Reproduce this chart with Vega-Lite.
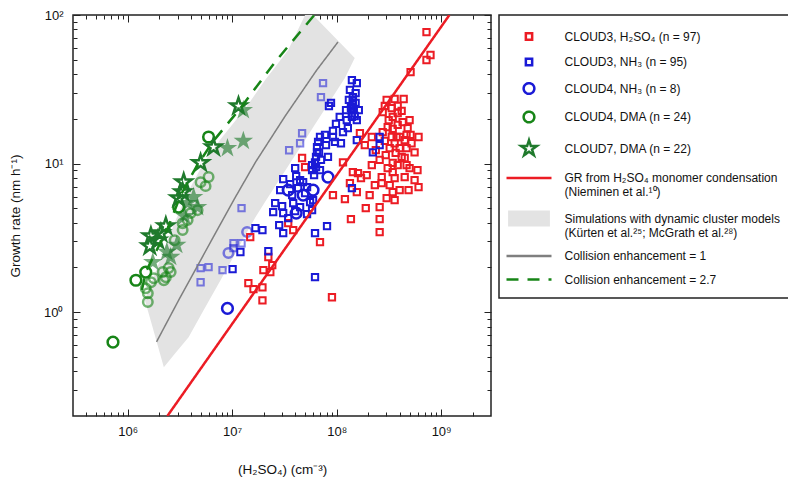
{
  "$schema": "https://vega.github.io/schema/vega-lite/v6.json",
  "width": 418,
  "height": 401,
  "autosize": {"type": "none"},
  "padding": {"left": 73, "top": 15, "right": 297, "bottom": 64},
  "background": "white",
  "datasets": {
    "sim": [
      {"x": 1460000, "y": 1.205, "y2": 1.205},
      {"x": 1670000, "y": 1.544, "y2": 0.87},
      {"x": 2220000, "y": 2.62, "y2": 0.426},
      {"x": 2880000, "y": 4.16, "y2": 0.533},
      {"x": 3830000, "y": 6.56, "y2": 0.679},
      {"x": 5330000, "y": 10.08, "y2": 1.03},
      {"x": 7740000, "y": 14.6, "y2": 1.64},
      {"x": 13400000, "y": 23.6, "y2": 3.3},
      {"x": 16700000, "y": 29.4, "y2": 4.36},
      {"x": 20700000, "y": 36.5, "y2": 5.54},
      {"x": 34400000, "y": 58.1, "y2": 9.62},
      {"x": 49900000, "y": 100, "y2": 14.4},
      {"x": 59400000, "y": 100, "y2": 17.5},
      {"x": 120000000, "y": 60.1, "y2": 37.6},
      {"x": 149000000, "y": 51.3, "y2": 51.3}
    ],
    "ce1": [
      {"x": 1890000, "y": 0.631}, {"x": 3080000, "y": 1.205}, {"x": 6210000, "y": 2.96},
      {"x": 10750000, "y": 5.95}, {"x": 16700000, "y": 10.2}, {"x": 32200000, "y": 20.9},
      {"x": 64500000, "y": 42.6}, {"x": 103000000, "y": 65.8}
    ],
    "ce27": [
      {"x": 1370000, "y": 1.41}, {"x": 1490000, "y": 1.86}, {"x": 1900000, "y": 2.62},
      {"x": 2420000, "y": 3.68}, {"x": 3220000, "y": 6.14}, {"x": 4470000, "y": 9.33},
      {"x": 6490000, "y": 13.96}, {"x": 12000000, "y": 23.6}, {"x": 25800000, "y": 48.3},
      {"x": 44700000, "y": 76.8}, {"x": 69300000, "y": 111}
    ],
    "gr": [{"x": 2400000, "y": 0.2}, {"x": 1200000000, "y": 100}],
    "nh3_light": [
      {"x": 74100000, "y": 34.8}, {"x": 70800000, "y": 28.0}, {"x": 46700000, "y": 16.0},
      {"x": 44700000, "y": 13.7}, {"x": 35100000, "y": 12.3}, {"x": 12300000, "y": 5.01},
      {"x": 10300000, "y": 2.91}, {"x": 12300000, "y": 2.91}, {"x": 4990000, "y": 1.98},
      {"x": 5950000, "y": 2.01}, {"x": 4990000, "y": 1.59}, {"x": 8090000, "y": 1.92},
      {"x": 10300000, "y": 2.7}
    ],
    "nh3": [
      {"x": 140000000, "y": 36.5}, {"x": 156000000, "y": 34.8}, {"x": 84400000, "y": 24.4},
      {"x": 143000000, "y": 28.0}, {"x": 143000000, "y": 26.4}, {"x": 143000000, "y": 24.8},
      {"x": 146000000, "y": 23.3}, {"x": 140000000, "y": 21.9}, {"x": 149000000, "y": 20.9},
      {"x": 107000000, "y": 20.6}, {"x": 125000000, "y": 19.6}, {"x": 156000000, "y": 19.6},
      {"x": 128000000, "y": 17.3}, {"x": 92200000, "y": 16.6}, {"x": 92200000, "y": 15.1},
      {"x": 110000000, "y": 13.7}, {"x": 156000000, "y": 14.4}, {"x": 88300000, "y": 25.6},
      {"x": 69300000, "y": 15.1}, {"x": 66400000, "y": 14.0}, {"x": 64900000, "y": 12.9},
      {"x": 64900000, "y": 11.9}, {"x": 63500000, "y": 11.1}, {"x": 62100000, "y": 10.2},
      {"x": 58200000, "y": 9.77}, {"x": 82600000, "y": 11.1}, {"x": 58200000, "y": 9.04},
      {"x": 69300000, "y": 9.04}, {"x": 40100000, "y": 9.33}, {"x": 41000000, "y": 8.24},
      {"x": 30800000, "y": 7.86}, {"x": 28800000, "y": 6.63}, {"x": 42800000, "y": 6.84},
      {"x": 47800000, "y": 7.5}, {"x": 52100000, "y": 6.95}, {"x": 25800000, "y": 5.42},
      {"x": 30100000, "y": 5.17}, {"x": 38400000, "y": 5.42}, {"x": 55700000, "y": 5.5},
      {"x": 30800000, "y": 4.64}, {"x": 40100000, "y": 4.79}, {"x": 58200000, "y": 4.86},
      {"x": 59500000, "y": 5.68}, {"x": 16700000, "y": 3.68}, {"x": 30800000, "y": 3.4},
      {"x": 62100000, "y": 3.4}, {"x": 80900000, "y": 3.79}, {"x": 140000000, "y": 6.84},
      {"x": 222000000, "y": 11.9}, {"x": 258000000, "y": 15.1}, {"x": 258000000, "y": 13.3},
      {"x": 12000000, "y": 2.54}, {"x": 22200000, "y": 2.57}, {"x": 10100000, "y": 1.95},
      {"x": 62100000, "y": 1.72}, {"x": 96400000, "y": 14.0}, {"x": 134000000, "y": 31.3},
      {"x": 152000000, "y": 29.8}, {"x": 137000000, "y": 23.6}, {"x": 152000000, "y": 25.6},
      {"x": 140000000, "y": 20.6}, {"x": 67800000, "y": 11.9}, {"x": 70800000, "y": 10.6},
      {"x": 63500000, "y": 9.47}, {"x": 60800000, "y": 8.37}, {"x": 44700000, "y": 7.74},
      {"x": 35900000, "y": 7.28}, {"x": 49900000, "y": 6.33}, {"x": 37500000, "y": 6.14},
      {"x": 44700000, "y": 5.09}, {"x": 52100000, "y": 4.57}, {"x": 34400000, "y": 4.3},
      {"x": 24700000, "y": 4.71}, {"x": 79100000, "y": 13.3}, {"x": 98500000, "y": 18.5},
      {"x": 123000000, "y": 22.9}, {"x": 28200000, "y": 3.85}, {"x": 19500000, "y": 3.57},
      {"x": 77400000, "y": 15.6}, {"x": 115000000, "y": 16.3}, {"x": 163000000, "y": 22.9},
      {"x": 131000000, "y": 26.8}
    ],
    "h2so4": [
      {"x": 724000000, "y": 76.8}, {"x": 791000000, "y": 53.8}, {"x": 724000000, "y": 49.8},
      {"x": 510000000, "y": 41.3}, {"x": 301000000, "y": 26.8}, {"x": 359000000, "y": 27.2},
      {"x": 438000000, "y": 27.2}, {"x": 276000000, "y": 22.2}, {"x": 344000000, "y": 20.6},
      {"x": 419000000, "y": 22.6}, {"x": 428000000, "y": 19.0}, {"x": 308000000, "y": 17.6},
      {"x": 344000000, "y": 17.1}, {"x": 337000000, "y": 15.1}, {"x": 375000000, "y": 15.1},
      {"x": 401000000, "y": 15.1}, {"x": 467000000, "y": 15.6}, {"x": 510000000, "y": 15.6},
      {"x": 608000000, "y": 15.1}, {"x": 448000000, "y": 14.4}, {"x": 167000000, "y": 16.0},
      {"x": 217000000, "y": 15.1}, {"x": 322000000, "y": 12.7}, {"x": 401000000, "y": 12.7},
      {"x": 467000000, "y": 12.7}, {"x": 419000000, "y": 11.1}, {"x": 115000000, "y": 10.2},
      {"x": 344000000, "y": 10.1}, {"x": 344000000, "y": 8.77}, {"x": 499000000, "y": 9.33},
      {"x": 46700000, "y": 10.9}, {"x": 143000000, "y": 8.77}, {"x": 160000000, "y": 8.63},
      {"x": 194000000, "y": 8.37}, {"x": 270000000, "y": 8.11}, {"x": 270000000, "y": 7.39},
      {"x": 359000000, "y": 7.98}, {"x": 448000000, "y": 8.11}, {"x": 134000000, "y": 7.39},
      {"x": 156000000, "y": 6.43}, {"x": 92200000, "y": 6.14}, {"x": 120000000, "y": 5.77},
      {"x": 344000000, "y": 6.43}, {"x": 488000000, "y": 6.63}, {"x": 608000000, "y": 6.95},
      {"x": 258000000, "y": 5.09}, {"x": 258000000, "y": 4.23}, {"x": 258000000, "y": 3.46},
      {"x": 137000000, "y": 4.23}, {"x": 49900000, "y": 9.47}, {"x": 34400000, "y": 3.97},
      {"x": 38400000, "y": 3.57}, {"x": 69300000, "y": 2.96}, {"x": 14900000, "y": 3.2},
      {"x": 22200000, "y": 2.35}, {"x": 24200000, "y": 2.07}, {"x": 19900000, "y": 1.92},
      {"x": 23200000, "y": 1.86}, {"x": 14300000, "y": 1.57}, {"x": 16000000, "y": 1.43},
      {"x": 19500000, "y": 1.47}, {"x": 19500000, "y": 1.2}, {"x": 90200000, "y": 1.26},
      {"x": 289000000, "y": 24.4}, {"x": 384000000, "y": 24.4}, {"x": 315000000, "y": 19.6},
      {"x": 384000000, "y": 18.2}, {"x": 478000000, "y": 17.3}, {"x": 289000000, "y": 14.2},
      {"x": 359000000, "y": 13.7}, {"x": 521000000, "y": 13.7}, {"x": 295000000, "y": 11.4},
      {"x": 367000000, "y": 11.8}, {"x": 448000000, "y": 10.9}, {"x": 557000000, "y": 11.9},
      {"x": 384000000, "y": 9.77}, {"x": 308000000, "y": 9.33}, {"x": 594000000, "y": 9.04},
      {"x": 232000000, "y": 7.16}, {"x": 322000000, "y": 7.16}, {"x": 401000000, "y": 6.63},
      {"x": 301000000, "y": 5.86}, {"x": 207000000, "y": 6.14}, {"x": 171000000, "y": 7.98},
      {"x": 217000000, "y": 9.77}, {"x": 237000000, "y": 12.3}, {"x": 186000000, "y": 13.3},
      {"x": 384000000, "y": 21.9}, {"x": 499000000, "y": 19.6}, {"x": 337000000, "y": 23.6},
      {"x": 276000000, "y": 16.3}, {"x": 557000000, "y": 7.74}, {"x": 359000000, "y": 5.68},
      {"x": 190000000, "y": 5.01}, {"x": 467000000, "y": 9.77}, {"x": 258000000, "y": 10.6}
    ],
    "c4nh3": [
      {"x": 9020000, "y": 1.06}, {"x": 34400000, "y": 6.63}, {"x": 59500000, "y": 6.63},
      {"x": 82600000, "y": 8.11}, {"x": 41000000, "y": 4.64}, {"x": 47800000, "y": 6.14}
    ],
    "c4nh3_light": [{"x": 13900000, "y": 3.46}, {"x": 9220000, "y": 2.5}],
    "c4dma": [
      {"x": 5950000, "y": 15.1}, {"x": 3080000, "y": 5.09}, {"x": 1490000, "y": 1.86},
      {"x": 1200000, "y": 1.64}, {"x": 724000, "y": 0.628}
    ],
    "c4dma_light": [
      {"x": 5950000, "y": 8.11}, {"x": 4670000, "y": 4.86}, {"x": 3360000, "y": 3.57},
      {"x": 3360000, "y": 3.97}, {"x": 2220000, "y": 1.64}, {"x": 2170000, "y": 1.86},
      {"x": 2320000, "y": 1.72}, {"x": 2580000, "y": 1.86}, {"x": 1490000, "y": 1.45},
      {"x": 1560000, "y": 1.34}, {"x": 1560000, "y": 1.17}, {"x": 1780000, "y": 1.69},
      {"x": 2820000, "y": 3.05}, {"x": 4010000, "y": 4.64}, {"x": 4990000, "y": 7.5},
      {"x": 3750000, "y": 4.17}, {"x": 2470000, "y": 1.98}, {"x": 1670000, "y": 1.59},
      {"x": 5570000, "y": 7.05}
    ],
    "c7dma": [
      {"x": 11500000, "y": 24.4}, {"x": 6640000, "y": 12.9}, {"x": 4990000, "y": 10.1},
      {"x": 3440000, "y": 7.5}, {"x": 3360000, "y": 6.43}, {"x": 3080000, "y": 5.86},
      {"x": 2320000, "y": 3.79}, {"x": 2080000, "y": 3.4}, {"x": 1670000, "y": 3.25},
      {"x": 1630000, "y": 2.78}, {"x": 1940000, "y": 3.05}
    ],
    "c7dma_light": [
      {"x": 12800000, "y": 22.9}, {"x": 9020000, "y": 12.7}, {"x": 12800000, "y": 14.2},
      {"x": 4280000, "y": 5.95}, {"x": 4670000, "y": 5.09}, {"x": 3750000, "y": 5.42},
      {"x": 2580000, "y": 2.35}, {"x": 2370000, "y": 2.54}, {"x": 1740000, "y": 2.17},
      {"x": 2950000, "y": 2.83}, {"x": 3510000, "y": 4.43}
    ]
  },
  "layer": [
    {
      "layer": [
        {
          "data": {"name": "sim"},
          "mark": {"type": "area", "color": "#e3e3e3", "opacity": 1, "clip": true},
          "encoding": {
            "x": {
              "field": "x", "type": "quantitative",
              "scale": {"type": "log", "domain": [300000, 3000000000], "nice": false},
              "axis": {
                "orient": "bottom",
                "title": "(H₂SO₄) (cm⁻³)",
                "values": [400000, 500000, 600000, 700000, 800000, 900000, 1000000, 2000000, 3000000, 4000000, 5000000, 6000000, 7000000, 8000000, 9000000, 10000000, 20000000, 30000000, 40000000, 50000000, 60000000, 70000000, 80000000, 90000000, 100000000, 200000000, 300000000, 400000000, 500000000, 600000000, 700000000, 800000000, 900000000, 1000000000, 2000000000],
                "labelExpr": "datum.value == 1000000 ? '10⁶' : datum.value == 10000000 ? '10⁷' : datum.value == 100000000 ? '10⁸' : datum.value == 1000000000 ? '10⁹' : ''",
                "tickSize": -7,
                "tickDash": {"condition": {"test": "abs(log(datum.value)/LN10 - round(log(datum.value)/LN10)) < 0.001", "value": [7, 0]}, "value": [4, 20]},
                "labelPadding": 16,
                "titlePadding": 24
              }
            },
            "y": {
              "field": "y", "type": "quantitative",
              "scale": {"type": "log", "domain": [0.2, 100], "nice": false},
              "axis": {
                "orient": "left",
                "title": "Growth rate (nm h⁻¹)",
                "values": [0.3, 0.4, 0.5, 0.6, 0.7, 0.8, 0.9, 1, 2, 3, 4, 5, 6, 7, 8, 9, 10, 20, 30, 40, 50, 60, 70, 80, 90, 100],
                "labelExpr": "datum.value == 1 ? '10⁰' : datum.value == 10 ? '10¹' : datum.value == 100 ? '10²' : ''",
                "tickSize": -7,
                "tickDash": {"condition": {"test": "abs(log(datum.value)/LN10 - round(log(datum.value)/LN10)) < 0.001", "value": [7, 0]}, "value": [4, 20]},
                "labelPadding": 17,
                "titlePadding": 21
              }
            },
            "y2": {"field": "y2"}
          }
        },
        {
          "data": {"name": "nh3_light"},
          "mark": {"type": "point", "shape": "square", "filled": false, "color": "#1a1ad6", "size": 40, "strokeWidth": 2, "opacity": 0.55},
          "encoding": {
            "x": {"field": "x", "type": "quantitative"},
            "y": {"field": "y", "type": "quantitative"}
          }
        },
        {
          "data": {"name": "c4nh3_light"},
          "mark": {"type": "point", "shape": "circle", "filled": false, "color": "#1a1ad6", "size": 90, "strokeWidth": 2.5, "opacity": 0.55},
          "encoding": {
            "x": {"field": "x", "type": "quantitative"},
            "y": {"field": "y", "type": "quantitative"}
          }
        },
        {
          "data": {"name": "c4dma_light"},
          "mark": {"type": "point", "shape": "circle", "filled": false, "color": "#178517", "size": 90, "strokeWidth": 2.5, "opacity": 0.6},
          "encoding": {
            "x": {"field": "x", "type": "quantitative"},
            "y": {"field": "y", "type": "quantitative"}
          }
        },
        {
          "data": {"name": "c7dma_light"},
          "mark": {"type": "point", "shape": "M0,-1L0.225,-0.309L0.951,-0.309L0.363,0.118L0.588,0.809L0,0.382L-0.588,0.809L-0.363,0.118L-0.951,-0.309L-0.225,-0.309Z", "filled": true, "color": "#1f7a2c", "size": 420, "opacity": 0.62},
          "encoding": {
            "x": {"field": "x", "type": "quantitative"},
            "y": {"field": "y", "type": "quantitative"}
          }
        },
        {
          "data": {"name": "h2so4"},
          "mark": {"type": "point", "filled": false, "opacity": 1, "size": 256, "strokeWidth": 2},
          "encoding": {
            "x": {"field": "x", "type": "quantitative"},
            "y": {"field": "y", "type": "quantitative"},
            "color": {
              "datum": "CLOUD3, H₂SO₄ (n = 97)",
              "scale": {
                "domain": ["CLOUD3, H₂SO₄ (n = 97)", "CLOUD3, NH₃ (n = 95)", "CLOUD4, NH₃ (n = 8)", "CLOUD4, DMA (n = 24)", "CLOUD7, DMA (n = 22)", "GR from H₂SO₄ monomer condensation", "Simulations with dynamic cluster models", "Collision enhancement = 1", "Collision enhancement = 2.7"],
                "range": ["#ec1c24", "#1a1ad6", "#1a1ad6", "#178517", "#1f7a2c", "#ec1c24", "#e3e3e3", "#7f7f7f", "#178517"]
              },
              "legend": {
                "title": null,
                "labelExpr": "datum.index == 5 ? ['GR from H₂SO₄ monomer condensation', '(Nieminen et al.¹⁰)'] : datum.index == 6 ? ['Simulations with dynamic cluster models', '(Kürten et al.²⁵; McGrath et al.²⁸)'] : datum.label"
              }
            },
            "shape": {
              "datum": "CLOUD3, H₂SO₄ (n = 97)",
              "scale": {
                "domain": ["CLOUD3, H₂SO₄ (n = 97)", "CLOUD3, NH₃ (n = 95)", "CLOUD4, NH₃ (n = 8)", "CLOUD4, DMA (n = 24)", "CLOUD7, DMA (n = 22)", "GR from H₂SO₄ monomer condensation", "Simulations with dynamic cluster models", "Collision enhancement = 1", "Collision enhancement = 2.7"],
                "range": [
                  "M-0.394,-0.394H0.394V0.394H-0.394Z",
                  "M-0.394,-0.394H0.394V0.394H-0.394Z",
                  "M-0.669,0A0.669,0.669 0 1,0 0.669,0A0.669,0.669 0 1,0 -0.669,0Z",
                  "M-0.669,0A0.669,0.669 0 1,0 0.669,0A0.669,0.669 0 1,0 -0.669,0Z",
                  "M0,-1.041L0.233,-0.321L0.99,-0.321L0.377,0.124L0.613,0.841L0,0.397L-0.613,0.841L-0.377,0.124L-0.99,-0.321L-0.233,-0.321Z",
                  "M-2.8125,0H2.8125",
                  "M-2.616,-0.844H2.616M-2.616,-0.563H2.616M-2.616,-0.281H2.616M-2.616,0H2.616M-2.616,0.281H2.616M-2.616,0.563H2.616M-2.616,0.844H2.616",
                  "M-2.8125,0H2.8125",
                  "M-2.8125,0H2.8125"
                ]
              },
              "legend": {"title": null}
            }
          }
        },
        {
          "data": {"name": "nh3"},
          "mark": {"type": "point", "filled": false, "opacity": 1, "size": 256, "strokeWidth": 2},
          "encoding": {
            "x": {"field": "x", "type": "quantitative"},
            "y": {"field": "y", "type": "quantitative"},
            "color": {"datum": "CLOUD3, NH₃ (n = 95)"},
            "shape": {"datum": "CLOUD3, NH₃ (n = 95)"}
          }
        },
        {
          "data": {"name": "c4nh3"},
          "mark": {"type": "point", "filled": false, "opacity": 1, "size": 256, "strokeWidth": 2.5},
          "encoding": {
            "x": {"field": "x", "type": "quantitative"},
            "y": {"field": "y", "type": "quantitative"},
            "color": {"datum": "CLOUD4, NH₃ (n = 8)"},
            "shape": {"datum": "CLOUD4, NH₃ (n = 8)"}
          }
        },
        {
          "data": {"name": "c4dma"},
          "mark": {"type": "point", "filled": false, "opacity": 1, "size": 256, "strokeWidth": 2.5},
          "encoding": {
            "x": {"field": "x", "type": "quantitative"},
            "y": {"field": "y", "type": "quantitative"},
            "color": {"datum": "CLOUD4, DMA (n = 24)"},
            "shape": {"datum": "CLOUD4, DMA (n = 24)"}
          }
        },
        {
          "data": {"name": "c7dma"},
          "mark": {"type": "point", "filled": false, "opacity": 1, "size": 256, "strokeWidth": 2.5},
          "encoding": {
            "x": {"field": "x", "type": "quantitative"},
            "y": {"field": "y", "type": "quantitative"},
            "color": {"datum": "CLOUD7, DMA (n = 22)"},
            "shape": {"datum": "CLOUD7, DMA (n = 22)"}
          }
        },
        {
          "data": {"name": "ce1"},
          "mark": {"type": "line", "clip": true, "strokeWidth": 1.5},
          "encoding": {
            "x": {"field": "x", "type": "quantitative"},
            "y": {"field": "y", "type": "quantitative"},
            "color": {"datum": "Collision enhancement = 1"},
            "strokeDash": {
              "datum": "Collision enhancement = 1",
              "scale": {
                "domain": ["CLOUD3, H₂SO₄ (n = 97)", "CLOUD3, NH₃ (n = 95)", "CLOUD4, NH₃ (n = 8)", "CLOUD4, DMA (n = 24)", "CLOUD7, DMA (n = 22)", "GR from H₂SO₄ monomer condensation", "Simulations with dynamic cluster models", "Collision enhancement = 1", "Collision enhancement = 2.7"],
                "range": [[1, 0], [1, 0], [1, 0], [1, 0], [1, 0], [1, 0], [1, 0], [1, 0], [12, 9]]
              },
              "legend": {"title": null}
            }
          }
        },
        {
          "data": {"name": "gr"},
          "mark": {"type": "line", "clip": true, "strokeWidth": 2.5},
          "encoding": {
            "x": {"field": "x", "type": "quantitative"},
            "y": {"field": "y", "type": "quantitative"},
            "color": {"datum": "GR from H₂SO₄ monomer condensation"},
            "strokeDash": {"datum": "GR from H₂SO₄ monomer condensation"}
          }
        },
        {
          "data": {"name": "ce27"},
          "mark": {"type": "line", "clip": true, "strokeWidth": 2.5},
          "encoding": {
            "x": {"field": "x", "type": "quantitative"},
            "y": {"field": "y", "type": "quantitative"},
            "color": {"datum": "Collision enhancement = 2.7"},
            "strokeDash": {"datum": "Collision enhancement = 2.7"}
          }
        }
      ]
    },
    {
      "data": {"name": "gr"},
      "mark": {"type": "point", "opacity": 0},
      "encoding": {
        "x": {
          "field": "x", "type": "quantitative",
          "scale": {"type": "log", "domain": [300000, 3000000000], "nice": false},
          "axis": {
            "orient": "top", "labels": false, "title": null,
            "values": [400000, 500000, 600000, 700000, 800000, 900000, 1000000, 2000000, 3000000, 4000000, 5000000, 6000000, 7000000, 8000000, 9000000, 10000000, 20000000, 30000000, 40000000, 50000000, 60000000, 70000000, 80000000, 90000000, 100000000, 200000000, 300000000, 400000000, 500000000, 600000000, 700000000, 800000000, 900000000, 1000000000, 2000000000],
            "tickSize": -7,
            "tickDash": {"condition": {"test": "abs(log(datum.value)/LN10 - round(log(datum.value)/LN10)) < 0.001", "value": [7, 0]}, "value": [4, 20]}
          }
        },
        "y": {
          "field": "y", "type": "quantitative",
          "scale": {"type": "log", "domain": [0.2, 100], "nice": false},
          "axis": {
            "orient": "right", "labels": false, "title": null,
            "values": [0.3, 0.4, 0.5, 0.6, 0.7, 0.8, 0.9, 1, 2, 3, 4, 5, 6, 7, 8, 9, 10, 20, 30, 40, 50, 60, 70, 80, 90, 100],
            "tickSize": -7,
            "tickDash": {"condition": {"test": "abs(log(datum.value)/LN10 - round(log(datum.value)/LN10)) < 0.001", "value": [7, 0]}, "value": [4, 20]}
          }
        }
      }
    }
  ],
  "resolve": {"axis": {"x": "independent", "y": "independent"}},
  "config": {
    "font": "Liberation Sans",
    "view": {"stroke": "#222", "strokeWidth": 1.5},
    "axis": {
      "domain": false, "grid": false, "tickColor": "#222", "tickWidth": 1,
      "labelColor": "#111", "titleColor": "#111",
      "labelFont": "Liberation Sans", "titleFont": "Liberation Sans",
      "labelFontSize": 13, "titleFontSize": 13.5, "titleFontWeight": "normal",
      "labelOverlap": false, "labelFlush": false, "labelBound": false
    },
    "legend": {
      "orient": "right",
      "offset": 7,
      "padding": 12,
      "strokeColor": "#222",
      "strokeWidth": 1.5,
      "fillColor": "white",
      "labelFont": "Liberation Sans",
      "labelFontSize": 12,
      "labelColor": "#111",
      "labelLimit": 400,
      "rowPadding": 7.5,
      "symbolSize": 256,
      "symbolStrokeWidth": 2.5,
      "symbolOffset": 8.5,
      "labelOffset": 26,
      "symbolFillColor": "transparent",
      "symbolOpacity": 1
    }
  }
}
